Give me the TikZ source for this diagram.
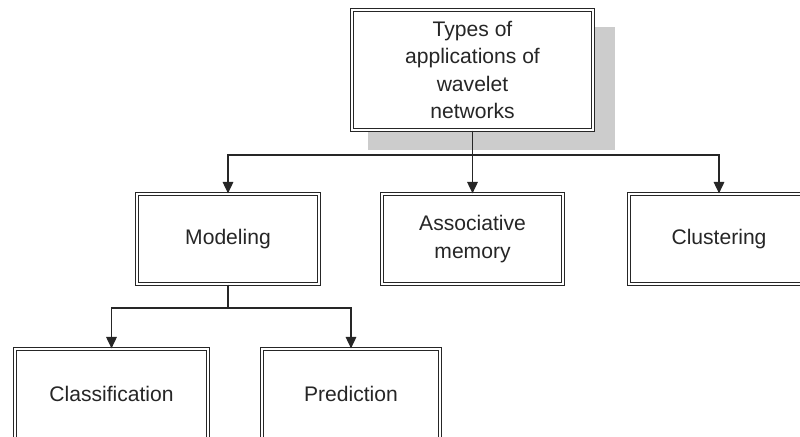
\documentclass[tikz,border=0pt]{standalone}
\usepackage{fontspec}
\setmainfont{Liberation Sans}
\usetikzlibrary{arrows.meta}

\begin{document}
\begin{tikzpicture}[x=0.02cm,y=-0.02cm,
box/.style={draw=black!85,double,line width=0.7pt,double distance=1pt,fill=white,
  align=center,text=black!85,font=\fontsize{12}{15.5}\selectfont,minimum height=1.8cm},
conn/.style={draw=black!85,line width=0.8pt},
arr/.style={conn,-{Triangle[length=6.5pt,width=6pt]}}]

\clip (0,0) rectangle (800,436);

% shadow of the top box
\fill[black!20] (368,27) rectangle (615,150);

\node[box,minimum width=4.82cm,minimum height=2.4cm] (top) at (472.5,70) {Types of\\applications of\\wavelet\\networks};

\node[box,minimum width=3.64cm] (model) at (228,239) {Modeling};
\node[box,minimum width=3.62cm] (assoc) at (472.5,239) {Associative\\memory};
\node[box,minimum width=3.6cm] (clust) at (719,239) {Clustering};

\node[box,minimum width=3.86cm] (classif) at (111.5,394) {Classification};
\node[box,minimum width=3.56cm] (predict) at (351,394) {Prediction};

\coordinate (bus) at (472.5,155);
\coordinate (split) at (228,308);

\draw[conn] (top.south) -- (bus);
\draw[arr] (bus) -| (model.north);
\draw[arr] (bus) -- (assoc.north);
\draw[arr] (bus) -| (clust.north);

\draw[conn] (model.south) -- (split);
\draw[arr] (split) -| (classif.north);
\draw[arr] (split) -| (predict.north);
\end{tikzpicture}
\end{document}
